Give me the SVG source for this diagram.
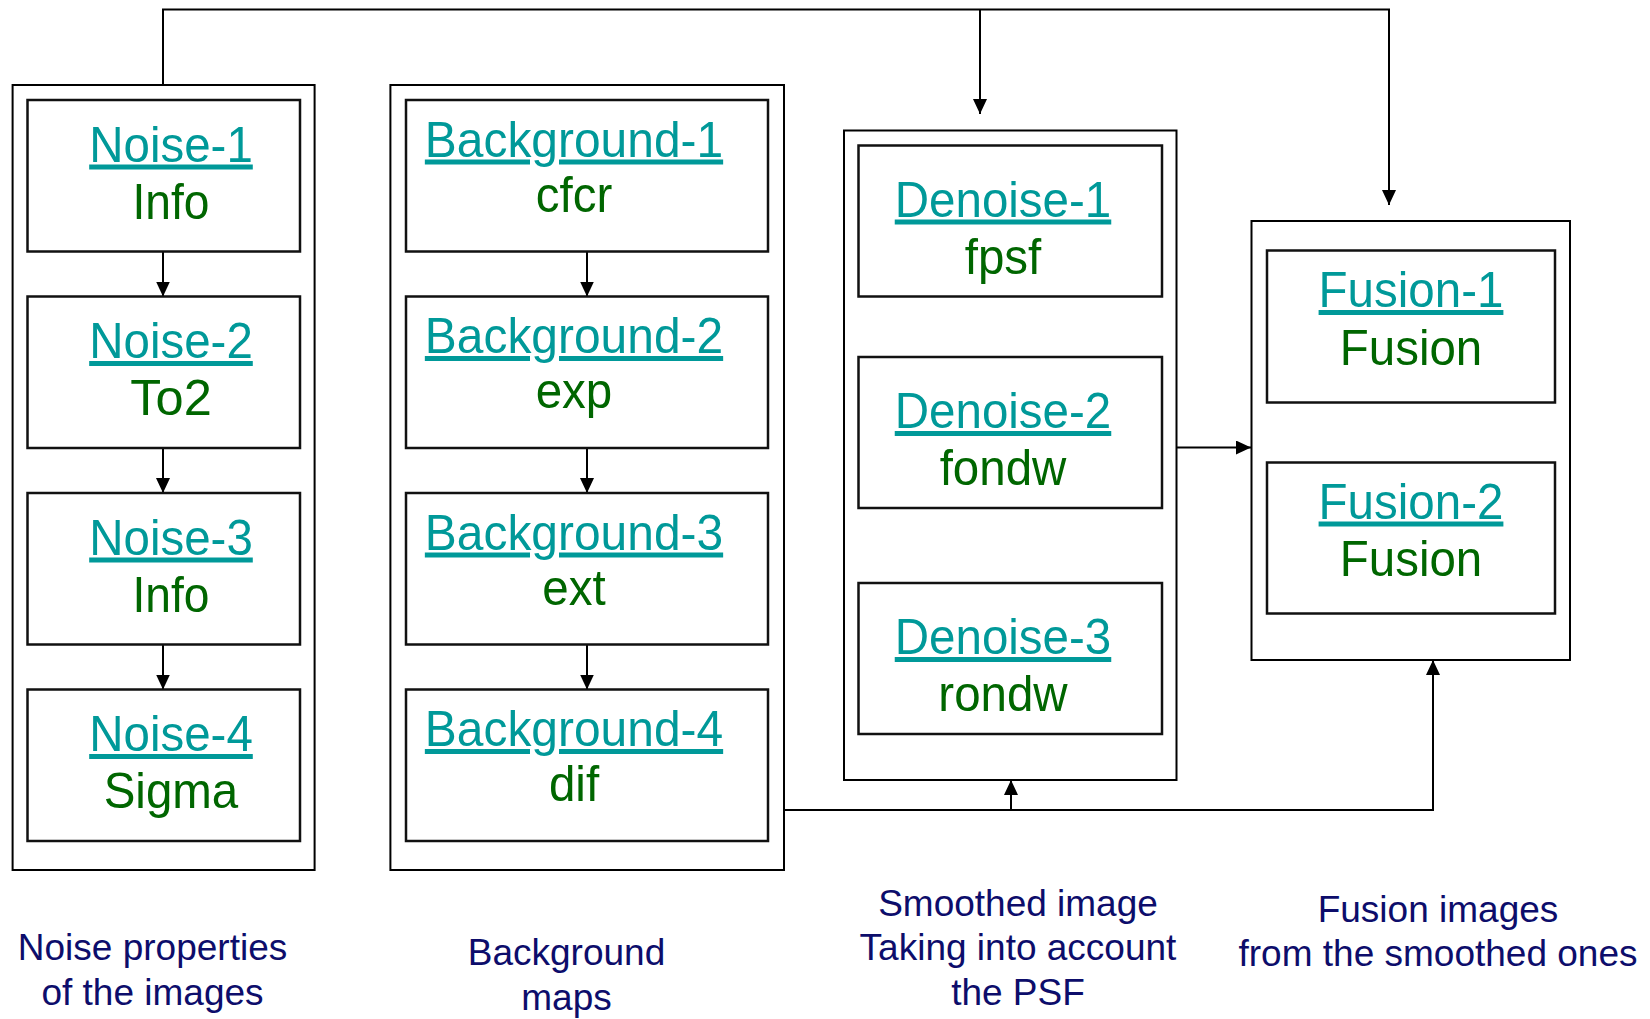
<svg xmlns="http://www.w3.org/2000/svg" width="1650" height="1019" viewBox="0 0 1650 1019">
  <style>
    .frame { fill: none; stroke: #000; stroke-width: 2; }
    .box { fill: #fff; stroke: #111; stroke-width: 2.5; }
    .wire { fill: none; stroke: #000; stroke-width: 2; }
    .title { font-family: "Liberation Sans", Arial, sans-serif; font-size: 50px; fill: #009999; text-anchor: middle; text-decoration: underline; }
    .sub { font-family: "Liberation Sans", Arial, sans-serif; font-size: 50px; fill: #006600; text-anchor: middle; }
    .caption { font-family: "Liberation Sans", Arial, sans-serif; font-size: 37px; fill: #0d0d6b; text-anchor: middle; }
  </style>
  <defs>
    <marker id="arrow" markerUnits="userSpaceOnUse" markerWidth="15" markerHeight="14" refX="15" refY="7" orient="auto">
      <path d="M0,0 L15,7 L0,14 z" fill="#000"/>
    </marker>
  </defs>
  <rect width="1650" height="1019" fill="#fff"/>

  <!-- group frames -->
  <g id="frames">
    <rect class="frame" x="12.6" y="85" width="302" height="785"/>
    <rect class="frame" x="390.4" y="85" width="393.6" height="785"/>
    <rect class="frame" x="844" y="130.5" width="332.5" height="649.5"/>
    <rect class="frame" x="1251.5" y="221" width="318.5" height="439"/>
  </g>

  <!-- connectors -->
  <g id="connectors">
    <line class="wire" x1="163" y1="251.5" x2="163" y2="296.5" marker-end="url(#arrow)"/>
    <line class="wire" x1="163" y1="448" x2="163" y2="493" marker-end="url(#arrow)"/>
    <line class="wire" x1="163" y1="644.5" x2="163" y2="689.5" marker-end="url(#arrow)"/>
    <line class="wire" x1="587" y1="251.5" x2="587" y2="296.5" marker-end="url(#arrow)"/>
    <line class="wire" x1="587" y1="448" x2="587" y2="493" marker-end="url(#arrow)"/>
    <line class="wire" x1="587" y1="644.5" x2="587" y2="689.5" marker-end="url(#arrow)"/>
    <path class="wire" d="M163,85 V9.5 H1389 V205" marker-end="url(#arrow)"/>
    <path class="wire" d="M980,9.5 V114" marker-end="url(#arrow)"/>
    <path class="wire" d="M1176.5,447.5 H1251" marker-end="url(#arrow)"/>
    <path class="wire" d="M784,810 H1433 V660" marker-end="url(#arrow)"/>
    <path class="wire" d="M1011,810 V780" marker-end="url(#arrow)"/>
  </g>

  <!-- noise column -->
  <g id="noise-1">
    <rect class="box" x="27.5" y="100" width="272.5" height="151.5"/>
    <text class="title" x="171" y="161.5" textLength="163.6" lengthAdjust="spacingAndGlyphs">Noise-1</text>
    <text class="sub" x="171" y="218.5" textLength="77" lengthAdjust="spacingAndGlyphs">Info</text>
  </g>
  <g id="noise-2">
    <rect class="box" x="27.5" y="296.5" width="272.5" height="151.5"/>
    <text class="title" x="171" y="358" textLength="163.6" lengthAdjust="spacingAndGlyphs">Noise-2</text>
    <text class="sub" x="171" y="415" textLength="81.5" lengthAdjust="spacingAndGlyphs">To2</text>
  </g>
  <g id="noise-3">
    <rect class="box" x="27.5" y="493" width="272.5" height="151.5"/>
    <text class="title" x="171" y="554.5" textLength="163.6" lengthAdjust="spacingAndGlyphs">Noise-3</text>
    <text class="sub" x="171" y="611.5" textLength="77" lengthAdjust="spacingAndGlyphs">Info</text>
  </g>
  <g id="noise-4">
    <rect class="box" x="27.5" y="689.5" width="272.5" height="151.5"/>
    <text class="title" x="171" y="751" textLength="163.6" lengthAdjust="spacingAndGlyphs">Noise-4</text>
    <text class="sub" x="171" y="808" textLength="134.6" lengthAdjust="spacingAndGlyphs">Sigma</text>
  </g>

  <!-- background column -->
  <g id="background-1">
    <rect class="box" x="406" y="100" width="362" height="151.5"/>
    <text class="title" x="574" y="156.5" textLength="298.3" lengthAdjust="spacingAndGlyphs">Background-1</text>
    <text class="sub" x="574" y="211.5" textLength="76.5" lengthAdjust="spacingAndGlyphs">cfcr</text>
  </g>
  <g id="background-2">
    <rect class="box" x="406" y="296.5" width="362" height="151.5"/>
    <text class="title" x="574" y="353" textLength="298.3" lengthAdjust="spacingAndGlyphs">Background-2</text>
    <text class="sub" x="574" y="408" textLength="76.6" lengthAdjust="spacingAndGlyphs">exp</text>
  </g>
  <g id="background-3">
    <rect class="box" x="406" y="493" width="362" height="151.5"/>
    <text class="title" x="574" y="549.5" textLength="298.3" lengthAdjust="spacingAndGlyphs">Background-3</text>
    <text class="sub" x="574" y="604.5" textLength="63.4" lengthAdjust="spacingAndGlyphs">ext</text>
  </g>
  <g id="background-4">
    <rect class="box" x="406" y="689.5" width="362" height="151.5"/>
    <text class="title" x="574" y="746" textLength="298.3" lengthAdjust="spacingAndGlyphs">Background-4</text>
    <text class="sub" x="574" y="801" textLength="50.2" lengthAdjust="spacingAndGlyphs">dif</text>
  </g>

  <!-- denoise column -->
  <g id="denoise-1">
    <rect class="box" x="858.5" y="145.5" width="303.5" height="151"/>
    <text class="title" x="1003" y="216.5" textLength="216.5" lengthAdjust="spacingAndGlyphs">Denoise-1</text>
    <text class="sub" x="1003" y="273.5" textLength="76.6" lengthAdjust="spacingAndGlyphs">fpsf</text>
  </g>
  <g id="denoise-2">
    <rect class="box" x="858.5" y="357" width="303.5" height="151"/>
    <text class="title" x="1003" y="428" textLength="216.5" lengthAdjust="spacingAndGlyphs">Denoise-2</text>
    <text class="sub" x="1003" y="485" textLength="126.7" lengthAdjust="spacingAndGlyphs">fondw</text>
  </g>
  <g id="denoise-3">
    <rect class="box" x="858.5" y="583" width="303.5" height="151"/>
    <text class="title" x="1003" y="654" textLength="216.5" lengthAdjust="spacingAndGlyphs">Denoise-3</text>
    <text class="sub" x="1003" y="711" textLength="129.3" lengthAdjust="spacingAndGlyphs">rondw</text>
  </g>

  <!-- fusion column -->
  <g id="fusion-1">
    <rect class="box" x="1267" y="250.5" width="288" height="152"/>
    <text class="title" x="1411" y="307" textLength="184.8" lengthAdjust="spacingAndGlyphs">Fusion-1</text>
    <text class="sub" x="1411" y="364.5" textLength="142.5" lengthAdjust="spacingAndGlyphs">Fusion</text>
  </g>
  <g id="fusion-2">
    <rect class="box" x="1267" y="462.5" width="288" height="151"/>
    <text class="title" x="1411" y="518.5" textLength="184.8" lengthAdjust="spacingAndGlyphs">Fusion-2</text>
    <text class="sub" x="1411" y="576" textLength="142.5" lengthAdjust="spacingAndGlyphs">Fusion</text>
  </g>

  <!-- column captions -->
  <g id="captions">
    <text class="caption" x="152.5" y="960">Noise properties</text>
    <text class="caption" x="152.5" y="1004.5">of the images</text>
    <text class="caption" x="566.5" y="965">Background</text>
    <text class="caption" x="566.5" y="1009.5">maps</text>
    <text class="caption" x="1018" y="915.5">Smoothed image</text>
    <text class="caption" x="1018" y="960">Taking into account</text>
    <text class="caption" x="1018" y="1004.5">the PSF</text>
    <text class="caption" x="1438" y="922">Fusion images</text>
    <text class="caption" x="1438" y="966">from the smoothed ones</text>
  </g>
</svg>
